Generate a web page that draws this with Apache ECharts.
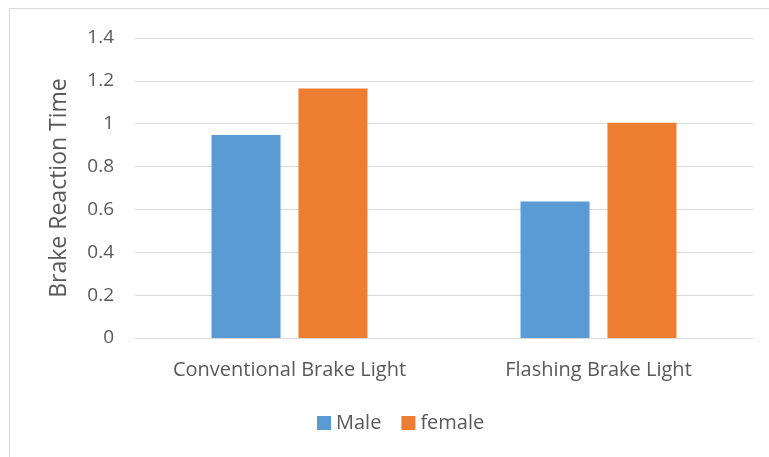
<!DOCTYPE html>
<html>
<head>
<meta charset="utf-8">
<script src="https://cdn.jsdelivr.net/npm/echarts@6/dist/echarts.min.js"></script>
<style>
  html, body { margin: 0; padding: 0; background: #fff; }
  #chart { width: 769px; height: 457px; }
</style>
</head>
<body>
<div id="chart"></div>
<script>
const categories = ["Conventional Brake Light", "Flashing Brake Light"];
const maleValues = [0.947, 0.637];
const femaleValues = [1.164, 1.005];

const chart = echarts.init(document.getElementById("chart"));
const font = "'Open Sans', 'Noto Sans', sans-serif";

chart.setOption({
  animation: false,
  graphic: [{
    type: "rect",
    shape: { x: 9.5, y: 8.5, width: 770, height: 460 },
    style: { fill: "none", stroke: "#d9d9d9", lineWidth: 1 }
  }],
  grid: { left: 135, right: 16, top: 38, bottom: 119 },
  legend: {
    top: 408,
    left: 312,
    itemWidth: 14,
    itemHeight: 14,
    itemGap: 20,
    icon: "rect",
    textStyle: { color: "#595959", fontSize: 20, fontFamily: font },
    data: ["Male", "female"]
  },
  xAxis: {
    type: "category",
    data: categories,
    axisLine: { lineStyle: { color: "#d9d9d9" } },
    axisTick: { show: false },
    axisLabel: { color: "#595959", fontSize: 20, fontFamily: font, margin: 22 }
  },
  yAxis: {
    type: "value",
    min: 0,
    max: 1.4,
    interval: 0.2,
    name: "Brake Reaction Time",
    nameLocation: "middle",
    nameGap: 64,
    nameTextStyle: { color: "#595959", fontSize: 23, fontFamily: font },
    axisLine: { show: false },
    axisTick: { show: false },
    axisLabel: { color: "#595959", fontSize: 19, fontFamily: font, margin: 21 },
    splitLine: { lineStyle: { color: "#d9d9d9" } }
  },
  series: [
    {
      name: "Male",
      type: "bar",
      data: maleValues,
      barWidth: 69,
      barGap: "26%",
      itemStyle: { color: "#5b9bd5" }
    },
    {
      name: "female",
      type: "bar",
      data: femaleValues,
      barWidth: 69,
      itemStyle: { color: "#ed7d31" }
    }
  ]
});
</script>
</body>
</html>
